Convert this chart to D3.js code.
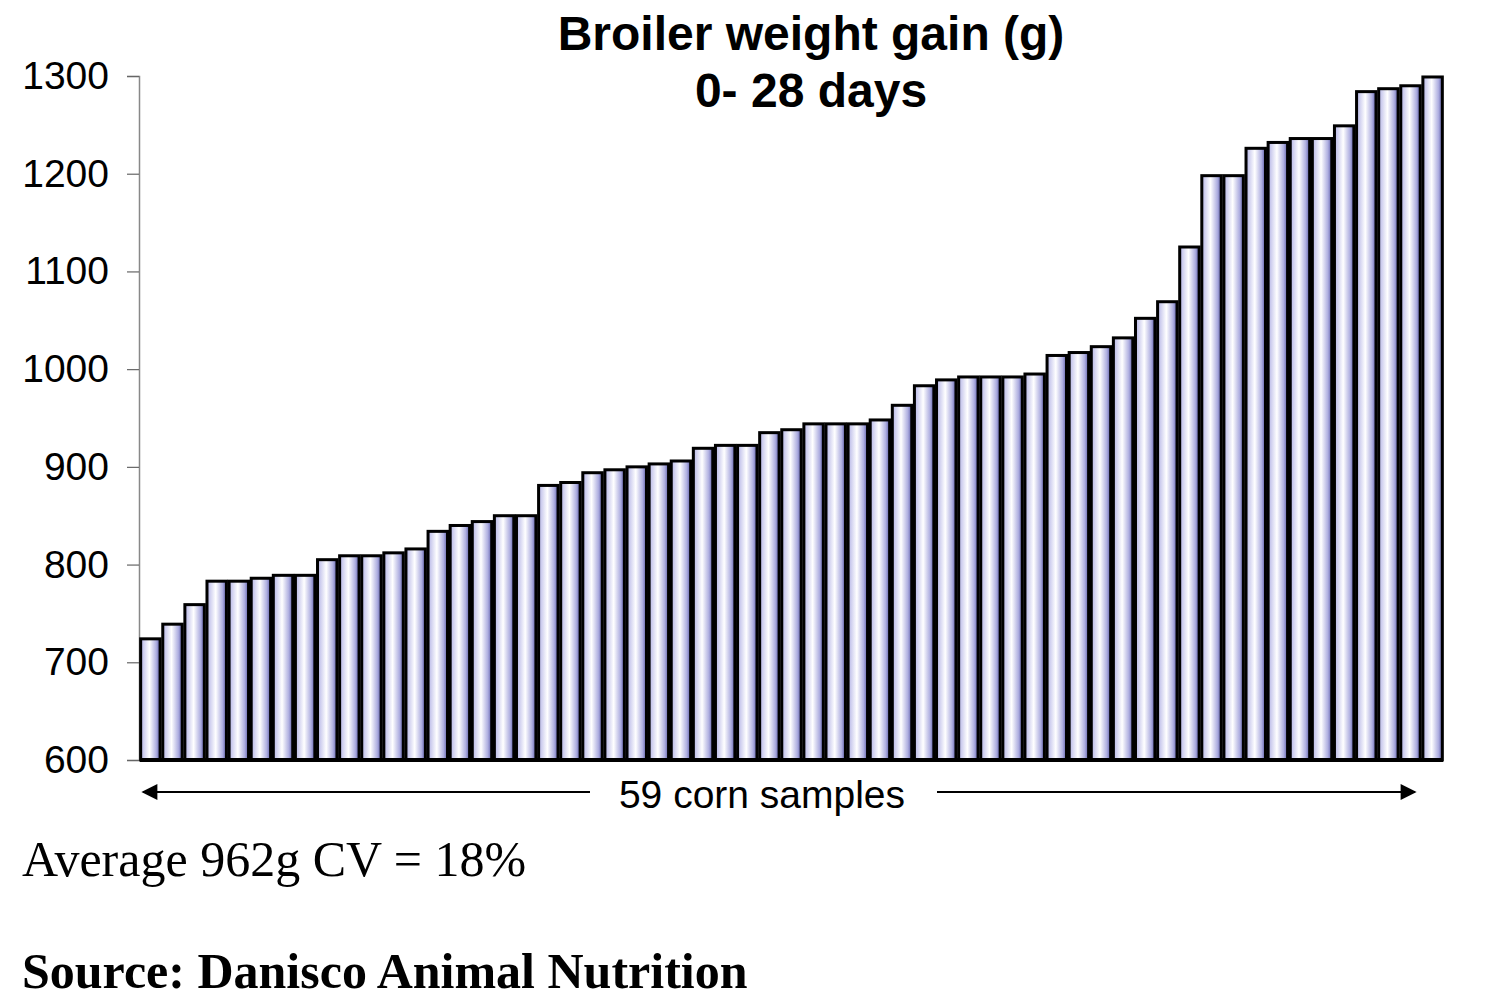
<!DOCTYPE html>
<html>
<head>
<meta charset="utf-8">
<script src="https://cdn.jsdelivr.net/npm/d3@7"></script>
<style>
  body { margin: 0; background: #fff; }
  svg { display: block; }
</style>
</head>
<body>
<svg id="chart"></svg>
<script>
// weight gain per corn sample, sorted ascending
const samples = d3.range(1, 60);
const weightGain = [
  724, 739, 759, 783, 783, 786, 789, 789, 805, 809,
  809, 812, 816, 834, 840, 844, 850, 850, 881, 884,
  894, 897, 900, 903, 906, 919, 922, 922, 935, 938,
  944, 944, 944, 948, 963, 983, 989, 992, 992, 992,
  995, 1014, 1017, 1023, 1032, 1052, 1069, 1125, 1198, 1198,
  1226, 1232, 1236, 1236, 1249, 1284, 1287, 1290, 1299
];
const yTicks = [600, 700, 800, 900, 1000, 1100, 1200, 1300];
const titleLines = ['Broiler weight gain (g)', '0- 28 days'];
const axisNote = '59 corn samples';
const averageNote = 'Average 962g CV = 18%';
const sourceNote = 'Source: Danisco Animal Nutrition';

const W = 1488, H = 1003;
const margin = { top: 76, right: 45, bottom: 243, left: 140 };
const width = W - margin.left - margin.right;
const height = H - margin.top - margin.bottom;

const svg = d3.select('#chart').attr('width', W).attr('height', H);

const defs = svg.append('defs');
const grad = defs.append('linearGradient')
  .attr('id', 'barFill')
  .attr('x1', '0%').attr('x2', '100%')
  .attr('y1', '0%').attr('y2', '0%');
grad.append('stop').attr('offset', '0%').attr('stop-color', '#b4b4e6');
grad.append('stop').attr('offset', '45%').attr('stop-color', '#ffffff');
grad.append('stop').attr('offset', '80%').attr('stop-color', '#aeaee0');
grad.append('stop').attr('offset', '100%').attr('stop-color', '#5a5aa6');

const g = svg.append('g')
  .attr('transform', `translate(${margin.left},${margin.top})`);

const x = d3.scaleBand()
  .domain(samples)
  .range([0, width])
  .paddingInner(0.12)
  .paddingOuter(0.03);

const y = d3.scaleLinear()
  .domain([600, 1300])
  .range([height, 0]);

// y axis
const yAxis = d3.axisLeft(y)
  .tickValues(yTicks)
  .tickFormat(d3.format('d'))
  .tickSize(12)
  .tickPadding(18);

const ya = g.append('g')
  .attr('transform', 'translate(-1,0)')
  .call(yAxis);
ya.select('.domain').attr('stroke', '#888').attr('stroke-width', 1.5);
ya.selectAll('.tick line').attr('stroke', '#666').attr('stroke-width', 1.2);
ya.selectAll('text')
  .attr('font-family', 'Liberation Sans, Arial, sans-serif')
  .attr('font-size', '39px')
  .attr('fill', '#000');

// bars
g.selectAll('.bar')
  .data(weightGain)
  .join('rect')
  .attr('class', 'bar')
  .attr('x', (d, i) => x(samples[i]))
  .attr('y', d => y(d))
  .attr('width', x.bandwidth())
  .attr('height', d => y(600) - y(d))
  .attr('fill', 'url(#barFill)')
  .attr('stroke', '#000')
  .attr('stroke-width', 3);

// baseline
g.append('line')
  .attr('x1', 0).attr('x2', x.range()[1])
  .attr('y1', y(600)).attr('y2', y(600))
  .attr('stroke', '#000')
  .attr('stroke-width', 4);

// title
svg.append('text')
  .attr('x', 811)
  .attr('y', 50)
  .attr('text-anchor', 'middle')
  .attr('font-family', 'Liberation Sans, Arial, sans-serif')
  .attr('font-weight', 'bold')
  .attr('font-size', '48px')
  .selectAll('tspan')
  .data(titleLines)
  .join('tspan')
  .attr('x', 811)
  .attr('dy', (d, i) => i === 0 ? 0 : 57)
  .text(d => d);

// arrow under the bars
const arrowY = y(600) + 32;
const arrowLeft = 3, arrowRight = width - 28;
defs.append('marker')
  .attr('id', 'arrowHead')
  .attr('viewBox', '0 0 10 10')
  .attr('refX', 9).attr('refY', 5)
  .attr('markerWidth', 18).attr('markerHeight', 16)
  .attr('markerUnits', 'userSpaceOnUse')
  .attr('orient', 'auto-start-reverse')
  .append('path')
  .attr('d', 'M0,0L10,5L0,10Z')
  .attr('fill', '#000');

g.append('line')
  .attr('x1', arrowLeft).attr('x2', 450)
  .attr('y1', arrowY).attr('y2', arrowY)
  .attr('stroke', '#000').attr('stroke-width', 2)
  .attr('marker-start', 'url(#arrowHead)');

g.append('line')
  .attr('x1', 797).attr('x2', arrowRight)
  .attr('y1', arrowY).attr('y2', arrowY)
  .attr('stroke', '#000').attr('stroke-width', 2)
  .attr('marker-end', 'url(#arrowHead)');

g.append('text')
  .attr('x', 622)
  .attr('y', arrowY + 16)
  .attr('text-anchor', 'middle')
  .attr('font-family', 'Liberation Sans, Arial, sans-serif')
  .attr('font-size', '39px')
  .text(axisNote);

// notes
svg.append('text')
  .attr('x', 22)
  .attr('y', 876)
  .attr('font-family', 'Liberation Serif, Times New Roman, serif')
  .attr('font-size', '50px')
  .text(averageNote);

svg.append('text')
  .attr('x', 22)
  .attr('y', 988)
  .attr('font-family', 'Liberation Serif, Times New Roman, serif')
  .attr('font-weight', 'bold')
  .attr('font-size', '50px')
  .text(sourceNote);
</script>
</body>
</html>
